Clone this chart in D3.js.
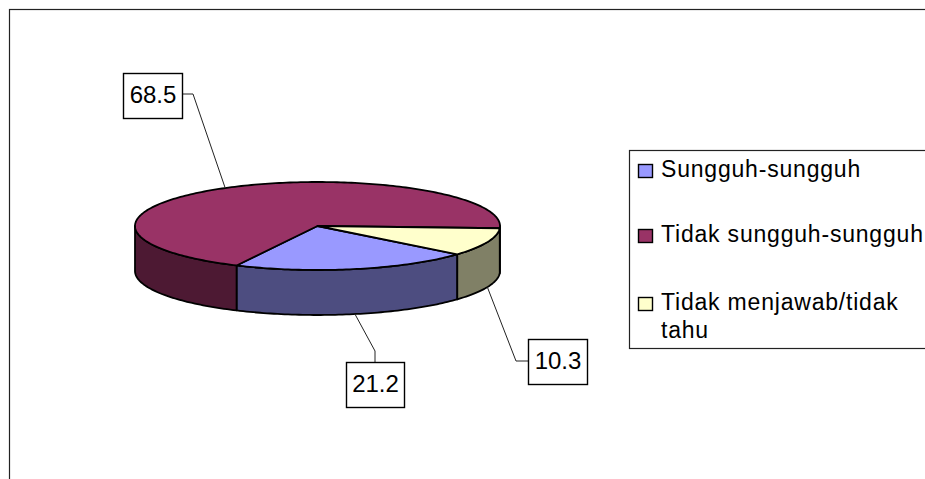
<!DOCTYPE html>
<html>
<head>
<meta charset="utf-8">
<script src="https://cdn.jsdelivr.net/npm/d3@7"></script>
<style>
  html, body { margin: 0; padding: 0; background: #fff; overflow: hidden; }
  text { font-family: "Liberation Sans", Arial, sans-serif; fill: #000; }
</style>
</head>
<body>
<svg id="chart" width="925" height="479"></svg>
<script>
const categories = ['Sungguh-sungguh', 'Tidak sungguh-sungguh', 'Tidak menjawab/tidak tahu'];
const values = [21.2, 68.5, 10.3];
const topColors = ['#9999ff', '#993366', '#ffffcc'];
const sideColors = ['#4d4d80', '#4d1933', '#808066'];
const legendLines = [['Sungguh-sungguh'], ['Tidak sungguh-sungguh'], ['Tidak menjawab/tidak', 'tahu']];

const svg = d3.select('#chart');
const cx = 317.5, cy = 226, rx = 182.5, ry = 44, depth = 45;
const startAngle = 130 * Math.PI / 180;

// frame runs off the right and bottom of the picture
svg.append('rect')
    .attr('x', 9.5).attr('y', 9.5).attr('width', 1000).attr('height', 600)
    .attr('fill', '#fff').attr('stroke', '#222').attr('stroke-width', 1.2);

const slices = d3.pie().sort(null)
    .startAngle(startAngle)
    .endAngle(startAngle + 2 * Math.PI)(values);

// angle is clockwise from the top, same as d3.arc
const px = a => cx + rx * Math.sin(a);
const py = (a, dy = 0) => cy - ry * Math.cos(a) + dy;

function arcPoints(a0, a1, dy) {
    let n = Math.max(2, Math.ceil((a1 - a0) / 0.02));
    return d3.range(n + 1).map(i => {
        let a = a0 + (a1 - a0) * i / n;
        return [px(a), py(a, dy)];
    });
}

const line = d3.line();
const front0 = Math.PI / 2, front1 = 3 * Math.PI / 2;

// side walls, only the part of each slice facing the viewer
slices.forEach(d => {
    [0, 2 * Math.PI].forEach(shift => {
        let a0 = Math.max(d.startAngle, front0 + shift);
        let a1 = Math.min(d.endAngle, front1 + shift);
        if (a1 <= a0) return;
        let pts = arcPoints(a0, a1, 0).concat(arcPoints(a0, a1, depth).reverse());
        svg.append('path')
            .attr('d', line(pts) + 'Z')
            .attr('fill', sideColors[d.index])
            .attr('stroke', '#000').attr('stroke-width', 1.8)
            .attr('stroke-linejoin', 'round');
    });
});

// top faces
slices.forEach(d => {
    let pts = [[cx, cy]].concat(arcPoints(d.startAngle, d.endAngle, 0));
    svg.append('path')
        .attr('d', line(pts) + 'Z')
        .attr('fill', topColors[d.index])
        .attr('stroke', '#000').attr('stroke-width', 1.8)
        .attr('stroke-linejoin', 'round');
});

// data labels, leader lines start at the middle of each slice
const labelBoxes = [
    {x: 346.5, y: 362.5, w: 58, h: 45, knee: [375, 351], end: [375, 362.5], onSide: true},
    {x: 123.5, y: 73.5, w: 59, h: 45, knee: [193, 94], end: [182.5, 94], onSide: false},
    {x: 528.5, y: 339.5, w: 59, h: 45, knee: [516, 361], end: [528.5, 361], onSide: true}
];

slices.forEach(d => {
    let b = labelBoxes[d.index];
    let mid = (d.startAngle + d.endAngle) / 2;
    let anchor = [px(mid), py(mid, b.onSide ? depth : 0)];
    svg.append('path')
        .attr('d', line([anchor, b.knee, b.end]))
        .attr('fill', 'none').attr('stroke', '#222').attr('stroke-width', 1);
    svg.append('rect')
        .attr('x', b.x).attr('y', b.y).attr('width', b.w).attr('height', b.h)
        .attr('fill', '#fff').attr('stroke', '#000').attr('stroke-width', 1.4);
    svg.append('text')
        .attr('x', b.x + b.w / 2).attr('y', b.y + 29)
        .attr('text-anchor', 'middle')
        .attr('font-size', 24)
        .text(d3.format('.1f')(d.value));
});

// legend
svg.append('rect')
    .attr('x', 629.5).attr('y', 150.5).attr('width', 400).attr('height', 198)
    .attr('fill', '#fff').attr('stroke', '#222').attr('stroke-width', 1.2);

const legendY = [177, 242, 310];
categories.forEach((c, i) => {
    svg.append('rect')
        .attr('x', 638.5).attr('y', legendY[i] - 12.5).attr('width', 14).attr('height', 13)
        .attr('fill', topColors[i])
        .attr('stroke', '#000').attr('stroke-width', 1.4);
    legendLines[i].forEach((t, j) => {
        svg.append('text')
            .attr('x', 661).attr('y', legendY[i] + j * 28)
            .attr('font-size', 23)
            .attr('letter-spacing', 0.8)
            .text(t);
    });
});
</script>
</body>
</html>
